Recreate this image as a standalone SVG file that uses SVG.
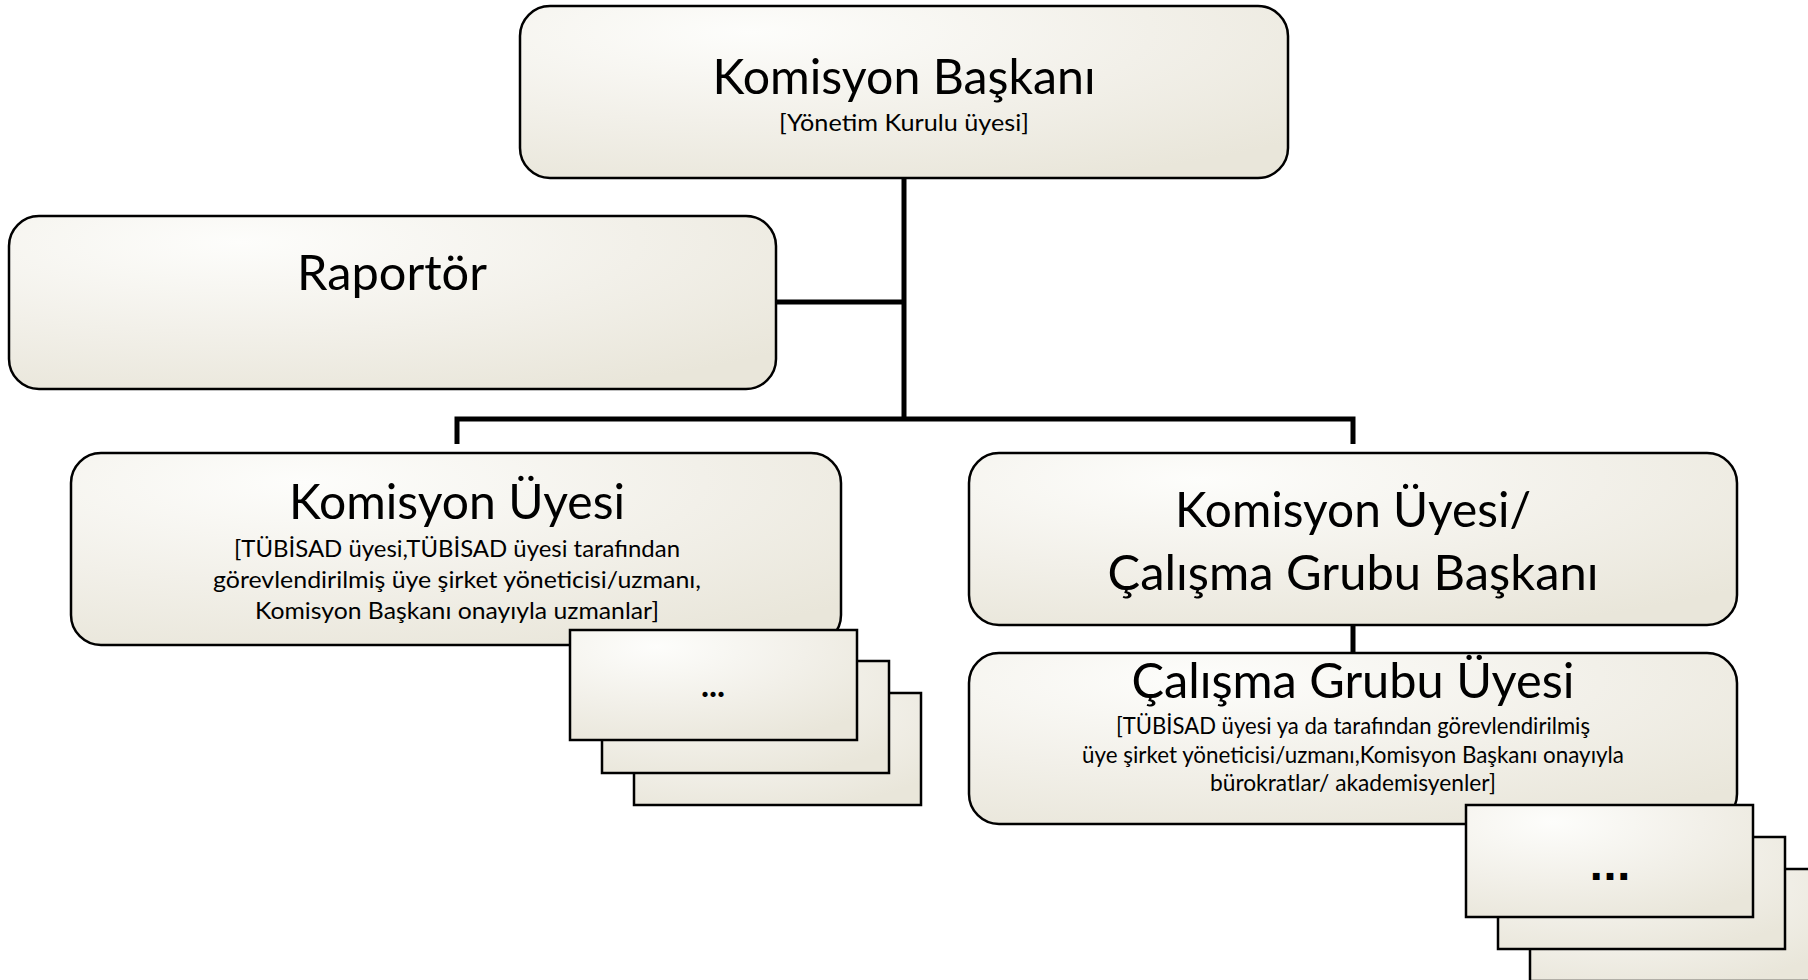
<svg xmlns="http://www.w3.org/2000/svg" width="1808" height="980" viewBox="0 0 1808 980">
<defs>
<radialGradient id="g" cx="0.3" cy="0.15" r="0.95">
<stop offset="0" stop-color="#fdfdfb"/>
<stop offset="0.55" stop-color="#f2f0e9"/>
<stop offset="1" stop-color="#e9e6da"/>
</radialGradient>
<style>
.box{fill:url(#g);stroke:#000;stroke-width:2.5}
.sq{fill:url(#g);stroke:#000;stroke-width:2.5}
.conn{fill:none;stroke:#000;stroke-width:5}
.t{font-family:Lato,"Open Sans","Liberation Sans",sans-serif;fill:#000;text-anchor:middle}
.h{font-size:49px}
.s{font-size:23.5px}
.d{font-weight:bold}
</style>
</defs>
<rect width="1808" height="980" fill="#fff"/>
<g id="connectors">
<path class="conn" d="M904 178 V419"/>
<path class="conn" d="M776 302 H904"/>
<path class="conn" d="M457 444 V419 H1353 V444"/>
<path class="conn" d="M1353 625 V653"/>
</g>
<g id="baskan">
<rect class="box" x="520" y="6" width="768" height="172" rx="30"/>
<text class="t h" x="904" y="94" textLength="383" lengthAdjust="spacingAndGlyphs">Komisyon Başkanı</text>
<text class="t s" x="904" y="131" textLength="250" lengthAdjust="spacingAndGlyphs">[Yönetim Kurulu üyesi]</text>
</g>
<g id="raportor">
<rect class="box" x="9" y="216" width="767" height="173" rx="30"/>
<text class="t h" x="392" y="290" textLength="190" lengthAdjust="spacingAndGlyphs">Raportör</text>
</g>
<g id="uye">
<rect class="box" x="71" y="453" width="770" height="192" rx="30"/>
<text class="t h" x="457" y="519" textLength="336" lengthAdjust="spacingAndGlyphs">Komisyon Üyesi</text>
<text class="t s" x="457" y="557" textLength="446" lengthAdjust="spacingAndGlyphs">[TÜBİSAD üyesi,TÜBİSAD üyesi tarafından</text>
<text class="t s" x="457" y="588" textLength="488" lengthAdjust="spacingAndGlyphs">görevlendirilmiş üye şirket yöneticisi/uzmanı,</text>
<text class="t s" x="457" y="619" textLength="404" lengthAdjust="spacingAndGlyphs">Komisyon Başkanı onayıyla uzmanlar]</text>
</g>
<g id="uye-stack">
<rect class="sq" x="634" y="693" width="287" height="112"/>
<rect class="sq" x="602" y="661" width="287" height="112"/>
<rect class="sq" x="570" y="630" width="287" height="110"/>
<text class="t d" x="713" y="697" font-size="34">...</text>
</g>
<g id="grup-baskani">
<rect class="box" x="969" y="453" width="768" height="172" rx="30"/>
<text class="t h" x="1353" y="527" textLength="356" lengthAdjust="spacingAndGlyphs">Komisyon Üyesi/</text>
<text class="t h" x="1353" y="590" textLength="491" lengthAdjust="spacingAndGlyphs">Çalışma Grubu Başkanı</text>
</g>
<g id="grup-uyesi">
<rect class="box" x="969" y="653" width="768" height="171" rx="30"/>
<text class="t h" x="1353" y="698" textLength="443" lengthAdjust="spacingAndGlyphs">Çalışma Grubu Üyesi</text>
<text class="t s" x="1353" y="734" textLength="474" lengthAdjust="spacingAndGlyphs">[TÜBİSAD üyesi ya da tarafından görevlendirilmiş</text>
<text class="t s" x="1353" y="763" textLength="542" lengthAdjust="spacingAndGlyphs">üye şirket yöneticisi/uzmanı,Komisyon Başkanı onayıyla</text>
<text class="t s" x="1353" y="791" textLength="286" lengthAdjust="spacingAndGlyphs">bürokratlar/ akademisyenler]</text>
</g>
<g id="grup-stack">
<rect class="sq" x="1530" y="869" width="287" height="112"/>
<rect class="sq" x="1498" y="837" width="287" height="112"/>
<rect class="sq" x="1466" y="805" width="287" height="112"/>
<text x="1610" y="880" font-family="'DejaVu Sans',sans-serif" font-weight="bold" font-size="38" text-anchor="middle" fill="#000" textLength="42" lengthAdjust="spacing">...</text>
</g>
</svg>
